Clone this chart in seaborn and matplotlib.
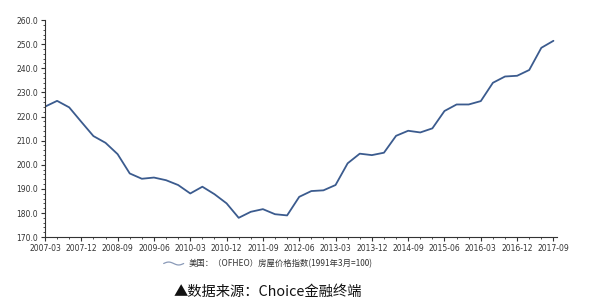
import numpy as np
import pandas as pd
import matplotlib
matplotlib.use("Agg")
import matplotlib.pyplot as plt
import seaborn as sns
from matplotlib.lines import Line2D
from matplotlib.legend_handler import HandlerLine2D
from matplotlib.ticker import MultipleLocator

quarters = [f"{y}-{m:02d}" for y in range(2007, 2018) for m in (3, 6, 9, 12)][:43]
values = [224.1, 226.5, 223.8, 217.8, 211.9, 209.1, 204.4, 196.4, 194.2, 194.7,
          193.6, 191.6, 188.1, 190.9, 187.8, 184.0, 178.0, 180.5, 181.6, 179.5,
          179.0, 186.7, 189.1, 189.4, 191.6, 200.6, 204.6, 204.0, 205.0, 212.0,
          214.1, 213.4, 215.1, 222.3, 225.0, 225.0, 226.4, 234.0, 236.6, 236.9,
          239.3, 248.5, 251.4]
tick_labels = quarters[::3]
series_name = "美国：（OFHEO）房屋价格指数(1991年3月=100)"
caption = "▲数据来源：Choice金融终端"

df = pd.DataFrame({"pos": np.arange(len(values)), "value": values, "date": quarters})

sns.set_style("white")
plt.rcParams['font.family'] = ['Noto Sans CJK SC', 'DejaVu Sans']

fig = plt.figure(figsize=(5.92, 3.04), dpi=100)
ax = fig.add_axes([0.076, 0.22, 0.865, 0.714])
color = "#3b5b8e"
sns.lineplot(data=df, x="pos", y="value", ax=ax, color=color, linewidth=1.3)

ax.set_ylim(170, 260)
ax.set_xlim(0, len(values) - 1 + 0.3)
ax.yaxis.set_major_locator(MultipleLocator(10))
ax.yaxis.set_minor_locator(MultipleLocator(2))
ax.set_xticks(np.arange(0, len(values), 3))
ax.set_xticklabels(tick_labels)
ax.set_xticks(np.arange(len(values)), minor=True)
ax.yaxis.set_major_formatter(matplotlib.ticker.FormatStrFormatter("%.1f"))
ax.tick_params(axis="both", which="major", direction="out", length=3, width=0.8,
               colors="#333333", labelsize=5.5, pad=2, left=True, bottom=True)
ax.tick_params(axis="both", which="minor", direction="out", length=1.5, width=0.6,
               colors="#333333", left=True, bottom=True)
for lab in ax.get_xticklabels() + ax.get_yticklabels():
    lab.set_family("DejaVu Sans")
    lab.set_color("#333333")
ax.set_xlabel("")
ax.set_ylabel("")
for s in ["top", "right"]:
    ax.spines[s].set_visible(False)
for s in ["left", "bottom"]:
    ax.spines[s].set_color("#333333")
    ax.spines[s].set_linewidth(0.8)


class WaveHandler(HandlerLine2D):
    def create_artists(self, legend, orig_handle, xdescent, ydescent, width, height, fontsize, trans):
        t = np.linspace(0, 1, 40)
        xs = -xdescent + t * width
        ys = -ydescent + height / 2 + np.sin(t * 2 * np.pi) * height * 0.25
        ln = Line2D(xs, ys, color="#8a9ab8", linewidth=0.9, transform=trans)
        return [ln]


handle = Line2D([], [], color=color)
fig.legend([handle], [series_name], loc="center", bbox_to_anchor=(0.453, 0.132),
           frameon=False, fontsize=6.0, handler_map={Line2D: WaveHandler()},
           handlelength=2.4, handletextpad=0.6, labelcolor="#333333")

fig.text(0.453, 0.04, caption, ha="center", va="center", fontsize=10.3, color="#111111")

fig.savefig("out.png", dpi=100, facecolor="white")
